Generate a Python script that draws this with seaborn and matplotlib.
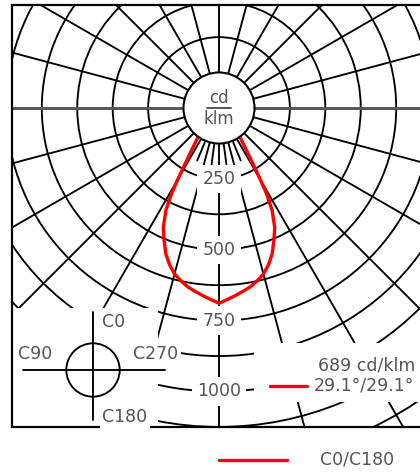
import numpy as np
import matplotlib
matplotlib.use("Agg")
import matplotlib.pyplot as plt
import seaborn as sns
from matplotlib.patches import Circle, Rectangle
from matplotlib.lines import Line2D

# C0/C180 luminous intensity distribution (cd/klm) against gamma angle from nadir
gamma_deg = [0, 2.5, 5, 7.5, 10, 12.5, 15, 17.5, 20, 22.5, 25, 27.5, 29,
             30, 31, 32, 33, 34, 36, 40, 45, 50, 60, 70, 80, 90]
intensity = [689, 676, 664, 652, 640, 624, 606, 580, 548, 506, 465, 405, 345,
             290, 242, 205, 178, 155, 125, 90, 55, 30, 10, 0, 0, 0]

ring_step = 125
ring_labels = [250, 500, 750, 1000]
peak_text = "689 cd/klm"
beam_text = "29.1°/29.1°"
plane_text = "C0/C180"
unit_top, unit_bottom = "cd", "klm"
plane_marks = ["C0", "C90", "C180", "C270"]

sns.set_theme(style="white")
plt.rcParams["font.family"] = ["DejaVu Sans"]

W, H = 420, 472
TXT = "#555555"
RED = "#ff0000"
FS = 12.5
GLW = 1.35

fig = plt.figure(figsize=(W / 100, H / 100), dpi=100)
px = 0.2835                       # pixels per cd/klm
cx, cy = 219, 108                 # pole position in pixels
left, right, top, bottom = 12, 432, 5, 427
ax = fig.add_axes([left / W, 1 - bottom / H, (right - left) / W, (bottom - top) / H])
ax.set_xlim((left - cx) / px, (right - cx) / px)
ax.set_ylim(-(bottom - cy) / px, (cy - top) / px)
ax.set_xticks([])
ax.set_yticks([])
for sp in ax.spines.values():
    sp.set_color("black")
    sp.set_linewidth(1.6)

def to_xy(r, ang):
    a = np.deg2rad(ang)
    return r * np.sin(a), -r * np.cos(a)

# concentric rings
for r in np.arange(ring_step, 1800, ring_step):
    ax.add_patch(Circle((0, 0), r, fill=False, ec="black", lw=GLW, zorder=1))

# spokes every 15 degrees, with finer ticks around nadir
for ang in np.arange(0, 360, 15):
    x0, y0 = to_xy(ring_step, ang)
    x1, y1 = to_xy(2000, ang)
    horizontal = ang % 180 == 90
    ax.plot([x0, x1], [y0, y1], color="#555555" if horizontal else "black",
            lw=2.1 if horizontal else GLW, zorder=1)
for ang in [-22.5, -7.5, 7.5, 22.5]:
    x0, y0 = to_xy(ring_step, ang)
    x1, y1 = to_xy(1.6 * ring_step, ang)
    ax.plot([x0, x1], [y0, y1], color="black", lw=GLW, zorder=1)

# legend panels blank out the grid
x_lo, x_hi = ax.get_xlim()
y_lo, y_hi = ax.get_ylim()
ax.add_patch(Rectangle((x_lo, y_lo), (158 - cx) / px - x_lo, -(308 - cy) / px - y_lo,
                       fc="white", ec="none", zorder=2))
ax.add_patch(Rectangle(((254 - cx) / px, -(402 - cy) / px), x_hi - (254 - cx) / px,
                       (402 - 343) / px, fc="white", ec="none", zorder=2))

# C0/C180 curve, mirrored about nadir
g = np.asarray(gamma_deg, dtype=float)
v = np.asarray(intensity, dtype=float)
theta = np.concatenate([-g[::-1], g[1:]])
vals = np.concatenate([v[::-1], v[1:]])
cx_data, cy_data = to_xy(vals, theta)
sns.lineplot(x=cx_data, y=cy_data, sort=False, estimator=None, color=RED,
             lw=2.4, ax=ax, zorder=3)
ax.set_xlabel("")
ax.set_ylabel("")

# central disk with unit
ax.add_patch(Circle((0, 0), ring_step, fc="white", ec="black", lw=GLW, zorder=4))
ax.text(0, 2, unit_top, ha="center", va="bottom", color=TXT, fontsize=FS - 0.5, zorder=5)
ax.plot([-42, 42], [0, 0], color=TXT, lw=1.4, zorder=5)
ax.text(0, -8, unit_bottom, ha="center", va="top", color=TXT, fontsize=FS - 0.5, zorder=5)

# ring value labels along nadir
for val in ring_labels:
    ax.text(0, -val, str(val), ha="center", va="center", color=TXT, fontsize=FS,
            zorder=5, bbox=dict(boxstyle="square,pad=0.3", fc="white", ec="none"))

# C-plane orientation symbol
sx, sy = (93 - cx) / px, -(370 - cy) / px
ax.add_patch(Circle((sx, sy), 26.7 / px, fill=False, ec="black", lw=GLW, zorder=5))
ax.plot([sx, sx], [-(312 - cy) / px, -(420 - cy) / px], color="black", lw=GLW, zorder=5)
ax.plot([(23 - cx) / px, (165 - cx) / px], [sy, sy], color="black", lw=GLW, zorder=5)
mark_pos = {"C0": (102, 322, "left"), "C90": (35, 354, "center"),
            "C270": (156, 354, "center"), "C180": (125, 417, "center")}
for m in plane_marks:
    mx, my, ha = mark_pos[m]
    ax.text((mx - cx) / px, -(my - cy) / px, m, ha=ha, va="center", color=TXT,
            fontsize=FS, zorder=5,
            bbox=dict(boxstyle="square,pad=0.15", fc="white", ec="none"))

# peak intensity and beam angle
ax.text((318 - cx) / px, -(365 - cy) / px, peak_text, ha="left", va="center",
        color=TXT, fontsize=FS, zorder=5, clip_on=False)
ax.text((314 - cx) / px, -(386 - cy) / px, beam_text, ha="left", va="center",
        color=TXT, fontsize=FS, zorder=5, clip_on=False)
ax.plot([(270 - cx) / px, (307 - cx) / px], [-(386 - cy) / px] * 2, color=RED,
        lw=2.4, zorder=5)

# plane legend under the diagram
ly = 1 - 460 / H
fig.add_artist(Line2D([219 / W, 287 / W], [ly, ly], color=RED, lw=2.4))
fig.text(320 / W, ly, plane_text, ha="left", va="center", color=TXT, fontsize=FS)

fig.savefig("out.png", dpi=100)
